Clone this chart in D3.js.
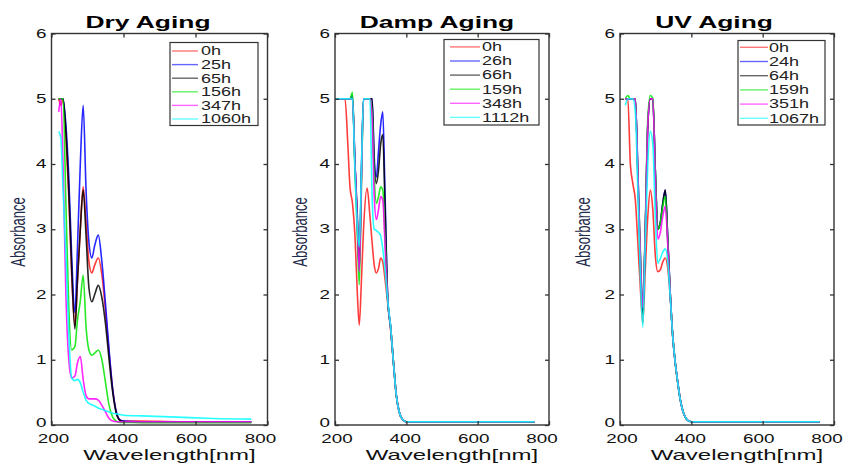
<!DOCTYPE html>
<html>
<head>
<meta charset="utf-8">
<script src="https://cdn.jsdelivr.net/npm/d3@7"></script>
<style>
body { margin: 0; background: #fff; }
text { font-family: "Liberation Sans", Arial, sans-serif; }
</style>
</head>
<body>
<svg id="chart" width="845" height="464"></svg>
<script>
var seriesColors = ["#ff1a1a", "#0000ff", "#000000", "#00e600", "#ff00ff", "#00ffff"];
var xTicks = [200, 400, 600, 800];
var yTicks = [0, 1, 2, 3, 4, 5, 6];

// Dry Aging
var dryLabels = ["0h", "25h", "65h", "156h", "347h", "1060h"];
var dryWl = [220, 226, 232, 240, 248, 256, 265, 272, 280, 288, 296, 304, 312, 320, 330, 340, 350, 360, 370, 380, 390, 400, 450, 550, 650, 755];
var dry0h    = [5, 4.9, 5, 4.4, 3.5, 2.3, 1.53, 2.2, 3.0, 3.65, 3.1, 2.5, 2.33, 2.45, 2.56, 2.3, 1.75, 1.1, 0.55, 0.2, 0.08, 0.06, 0.06, 0.05, 0.05, 0.05];
var dry25h   = [5, 5, 5, 4.6, 3.8, 2.6, 1.72, 2.7, 4.0, 4.9, 3.6, 2.8, 2.56, 2.75, 2.91, 2.5, 1.85, 1.15, 0.55, 0.2, 0.08, 0.06, 0.05, 0.05, 0.05, 0.05];
var dry65h   = [5, 5, 5, 4.5, 3.6, 2.4, 1.47, 2.2, 3.0, 3.6, 2.9, 2.1, 1.89, 2.0, 2.14, 1.95, 1.55, 1.0, 0.5, 0.18, 0.07, 0.05, 0.04, 0.04, 0.04, 0.04];
var dry156h  = [5, 5, 5, 3.4, 1.8, 1.15, 1.2, 1.6, 1.9, 2.3, 1.5, 1.15, 1.07, 1.1, 1.15, 1.0, 0.65, 0.3, 0.12, 0.06, 0.04, 0.04, 0.04, 0.04, 0.04, 0.04];
var dry347h  = [4.8, 5, 4.0, 2.0, 1.0, 0.72, 0.75, 0.95, 1.05, 0.7, 0.45, 0.4, 0.4, 0.4, 0.38, 0.3, 0.2, 0.1, 0.06, 0.05, 0.05, 0.05, 0.05, 0.05, 0.05, 0.05];
var dry1060h = [4.5, 4.4, 3.6, 2.6, 1.4, 0.72, 0.68, 0.7, 0.65, 0.5, 0.38, 0.33, 0.31, 0.29, 0.26, 0.24, 0.22, 0.2, 0.18, 0.17, 0.16, 0.15, 0.14, 0.12, 0.1, 0.09];

// Damp Aging
var dampLabels = ["0h", "26h", "66h", "159h", "348h", "1112h"];
var dampWl = [200, 228, 236, 242, 249, 256, 262, 268, 274, 280, 290, 298, 304, 310, 316, 322, 328, 334, 340, 348, 356, 364, 372, 380, 390, 400, 410, 450, 550, 650, 760];
var damp0h    = [5, 5, 4.3, 3.65, 3.4, 2.9, 2.1, 1.53, 2.2, 3.0, 3.63, 3.2, 2.8, 2.45, 2.33, 2.4, 2.56, 2.5, 2.25, 1.85, 1.45, 0.95, 0.45, 0.2, 0.08, 0.05, 0.05, 0.05, 0.05, 0.05, 0.05];
var damp26h   = [5, 5, 5, 5, 5.05, 4.0, 3.2, 2.37, 3.9, 5, 5, 5, 5, 4.1, 3.8, 4.2, 4.6, 4.8, 3.6, 1.92, 1.5, 0.95, 0.45, 0.2, 0.08, 0.05, 0.05, 0.05, 0.05, 0.05, 0.05];
var damp66h   = [5, 5, 5, 5, 5, 4.0, 3.3, 2.4, 3.8, 5, 5, 5, 5, 4.0, 3.7, 3.9, 4.3, 4.45, 3.4, 1.92, 1.5, 0.95, 0.45, 0.2, 0.08, 0.05, 0.05, 0.05, 0.05, 0.05, 0.05];
var damp159h  = [5, 5, 5, 5, 5.1, 3.9, 3.0, 2.15, 3.6, 5, 5, 5, 4.8, 3.8, 3.4, 3.5, 3.65, 3.6, 2.9, 1.9, 1.5, 0.95, 0.45, 0.2, 0.08, 0.05, 0.05, 0.05, 0.05, 0.05, 0.05];
var damp348h  = [5, 5, 5, 5, 5, 4.0, 3.2, 2.35, 3.7, 5, 5, 5, 4.7, 3.5, 3.15, 3.3, 3.5, 3.45, 2.8, 1.9, 1.5, 0.95, 0.45, 0.2, 0.08, 0.05, 0.05, 0.05, 0.05, 0.05, 0.05];
var damp1112h = [5, 5, 5, 5, 5, 3.9, 3.1, 2.73, 3.9, 5, 5, 5, 3.5, 3.0, 2.98, 2.95, 2.9, 2.7, 2.4, 1.9, 1.5, 0.95, 0.45, 0.2, 0.08, 0.05, 0.05, 0.05, 0.05, 0.05, 0.05];

// UV Aging
var uvLabels = ["0h", "24h", "64h", "159h", "351h", "1067h"];
var uvWl = [215, 222, 229, 236, 243, 250, 257, 264, 271, 278, 285, 292, 299, 306, 313, 320, 327, 334, 341, 348, 355, 362, 369, 376, 383, 390, 400, 450, 550, 650, 760];
var uv0h    = [5, 5, 4.0, 3.7, 3.45, 2.8, 2.1, 1.56, 2.4, 3.2, 3.6, 3.3, 2.6, 2.35, 2.38, 2.5, 2.56, 2.4, 1.95, 1.35, 0.95, 0.65, 0.39, 0.22, 0.12, 0.07, 0.05, 0.05, 0.05, 0.05, 0.05];
var uv24h   = [5, 5, 5, 5, 5, 3.9, 2.6, 1.75, 3.0, 4.6, 5, 5, 3.9, 3.0, 3.1, 3.4, 3.6, 2.85, 2.0, 1.35, 0.95, 0.65, 0.39, 0.22, 0.12, 0.07, 0.05, 0.05, 0.05, 0.05, 0.05];
var uv64h   = [5, 5, 5, 5, 5, 3.8, 2.5, 1.7, 3.0, 4.6, 5, 5, 3.9, 3.0, 3.1, 3.4, 3.6, 2.85, 2.0, 1.35, 0.95, 0.65, 0.39, 0.22, 0.12, 0.07, 0.05, 0.05, 0.05, 0.05, 0.05];
var uv159h  = [5, 5.05, 5, 5, 5, 3.9, 2.7, 1.8, 3.1, 4.7, 5.05, 5, 3.9, 3.0, 3.1, 3.35, 3.5, 2.8, 2.0, 1.35, 0.95, 0.65, 0.39, 0.22, 0.12, 0.07, 0.05, 0.05, 0.05, 0.05, 0.05];
var uv351h  = [5, 5, 5, 5, 5, 3.9, 2.6, 1.8, 3.0, 4.6, 5, 5, 3.8, 2.85, 2.95, 3.2, 3.35, 2.75, 2.0, 1.35, 0.95, 0.65, 0.39, 0.22, 0.12, 0.07, 0.05, 0.05, 0.05, 0.05, 0.05];
var uv1067h = [4.9, 5, 5, 5, 4.8, 3.6, 2.3, 1.5, 2.8, 4.0, 4.5, 4.3, 3.2, 2.48, 2.55, 2.65, 2.7, 2.5, 1.95, 1.35, 0.95, 0.65, 0.39, 0.22, 0.12, 0.07, 0.05, 0.05, 0.05, 0.05, 0.05];

var panels = [
	{title: "Dry Aging", labels: dryLabels, wl: dryWl, series: [dry0h, dry25h, dry65h, dry156h, dry347h, dry1060h],
	 left: 51.5, right: 267.5, titleX: 148, yLabelX: 20,
	 legend: {x: 170, y: 42.5, w: 88, h: 83, lineX: 172, lineW: 26, textX: 201, first: 8.5, step: 13.6}},
	{title: "Damp Aging", labels: dampLabels, wl: dampWl, series: [damp0h, damp26h, damp66h, damp159h, damp348h, damp1112h],
	 left: 335, right: 549, titleX: 437, yLabelX: 302,
	 legend: {x: 444, y: 39.5, w: 95, h: 85.5, lineX: 450, lineW: 30, textX: 482, first: 7.4, step: 14.1}},
	{title: "UV Aging", labels: uvLabels, wl: uvWl, series: [uv0h, uv24h, uv64h, uv159h, uv351h, uv1067h],
	 left: 620, right: 834, titleX: 714, yLabelX: 585,
	 legend: {x: 738, y: 40.5, w: 87, h: 84.5, lineX: 740, lineW: 28, textX: 769, first: 6.8, step: 14.2}}
];

var svg = d3.select("#chart");
var plotTop = 33.5, plotBottom = 425;

function stretchText(g, x, y, str, size, sx, anchor) {
	return g.append("text")
		.attr("transform", "translate(" + x + "," + y + ") scale(" + sx + ",1)")
		.attr("text-anchor", anchor)
		.style("font-size", size + "px")
		.text(str);
}

panels.forEach(function(p, pi) {
	var x = d3.scaleLinear().domain([200, 800]).range([p.left, p.right]);
	var xl = d3.scaleLinear().domain([200, 800]).range([p.left + 2, p.right - 7]);
	var y = d3.scaleLinear().domain([0, 6]).range([plotBottom, plotTop]);
	var g = svg.append("g");

	g.append("clipPath").attr("id", "clip" + pi)
		.append("rect").attr("x", p.left).attr("y", plotTop).attr("width", p.right - p.left).attr("height", plotBottom - plotTop);

	var line = d3.line()
		.curve(d3.curveMonotoneX)
		.x(function(d) { return x(d[0]); })
		.y(function(d) { return y(d[1]); });

	var curves = g.append("g").attr("clip-path", "url(#clip" + pi + ")");
	p.series.forEach(function(vals, si) {
		curves.append("path")
			.datum(p.wl.map(function(w, i) { return [w, vals[i]]; }))
			.attr("d", line)
			.attr("fill", "none")
			.attr("stroke", seriesColors[si])
			.attr("stroke-width", 1.6)
			.attr("stroke-opacity", 0.85);
	});

	// axes with inward ticks on all four sides
	var axisColor = "#333";
	g.append("g").attr("transform", "translate(0," + plotBottom + ")")
		.call(d3.axisBottom(x).tickValues(xTicks).tickSize(-4).tickSizeOuter(0).tickFormat(""));
	g.append("g").attr("transform", "translate(0," + plotTop + ")")
		.call(d3.axisTop(x).tickValues(xTicks).tickSize(-4).tickSizeOuter(0).tickFormat(""));
	g.append("g").attr("transform", "translate(" + p.left + ",0)")
		.call(d3.axisLeft(y).tickValues(yTicks).tickSize(-4).tickSizeOuter(0).tickFormat(""));
	g.append("g").attr("transform", "translate(" + p.right + ",0)")
		.call(d3.axisRight(y).tickValues(yTicks).tickSize(-4).tickSizeOuter(0).tickFormat(""));
	g.selectAll(".domain").remove();
	g.selectAll(".tick line").attr("stroke", axisColor).attr("stroke-width", 1.3);
	g.append("rect")
		.attr("x", p.left).attr("y", plotTop)
		.attr("width", p.right - p.left).attr("height", plotBottom - plotTop)
		.attr("fill", "none").attr("stroke", axisColor).attr("stroke-width", 1.4);

	// tick labels
	xTicks.forEach(function(t) {
		stretchText(g, xl(t), 443, t, 13, 1.45, "middle").attr("fill", "#111");
	});
	yTicks.forEach(function(t) {
		stretchText(g, p.left - 5, y(t) + (t === 0 ? 1.5 : 4), t, 13, 1.45, "end").attr("fill", "#111");
	});

	// title and axis labels
	stretchText(g, p.titleX, 28, p.title, 16, 1.65, "middle")
		.style("font-weight", "bold").attr("fill", "#000");
	stretchText(g, (p.left + p.right) / 2 + 10, 460, "Wavelength[nm]", 15, 1.6, "middle").attr("fill", "#111");
	g.append("text")
		.attr("transform", "translate(" + (p.yLabelX + 5) + ",232) scale(1.6,1) rotate(-90)")
		.attr("text-anchor", "middle")
		.style("font-size", "13px")
		.attr("fill", "#1f2b4a")
		.text("Absorbance");

	// legend
	var lg = p.legend;
	g.append("rect")
		.attr("x", lg.x).attr("y", lg.y).attr("width", lg.w).attr("height", lg.h)
		.attr("fill", "#fff").attr("stroke", "#333").attr("stroke-width", 1.2);
	p.labels.forEach(function(lab, i) {
		var cy = lg.y + lg.first + i * lg.step;
		g.append("line")
			.attr("x1", lg.lineX).attr("x2", lg.lineX + lg.lineW)
			.attr("y1", cy).attr("y2", cy)
			.attr("stroke", seriesColors[i]).attr("stroke-width", 1.4).attr("stroke-opacity", 0.6);
		stretchText(g, lg.textX, cy + 4.3, lab, 12, 1.5, "start").attr("fill", "#222");
	});
});
</script>
</body>
</html>
